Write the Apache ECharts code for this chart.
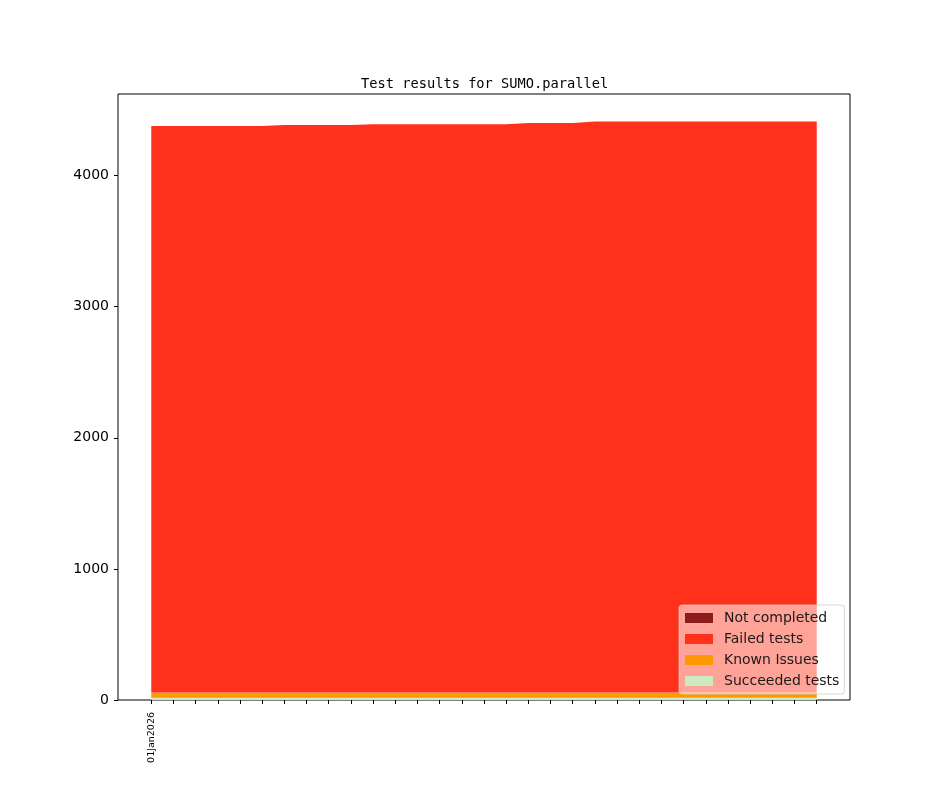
<!DOCTYPE html>
<html>
<head>
<meta charset="utf-8">
<script src="https://cdn.jsdelivr.net/npm/echarts@6/dist/echarts.min.js"></script>
<style>
  html, body { margin: 0; padding: 0; background: #fff; }
  #chart { width: 944px; height: 787px; }
</style>
</head>
<body>
<div id="chart"></div>
<script>
// one entry per day, starting 01Jan2026
const days = ['01Jan2026', '02Jan2026', '03Jan2026', '04Jan2026', '05Jan2026', '06Jan2026', '07Jan2026', '08Jan2026',
  '09Jan2026', '10Jan2026', '11Jan2026', '12Jan2026', '13Jan2026', '14Jan2026', '15Jan2026', '16Jan2026',
  '17Jan2026', '18Jan2026', '19Jan2026', '20Jan2026', '21Jan2026', '22Jan2026', '23Jan2026', '24Jan2026',
  '25Jan2026', '26Jan2026', '27Jan2026', '28Jan2026', '29Jan2026', '30Jan2026', '31Jan2026']
const succeeded = [18, 18, 18, 18, 18, 18, 18, 18, 18, 18, 18, 18, 18, 18, 18, 18,
  18, 18, 18, 18, 18, 18, 18, 18, 18, 18, 18, 18, 18, 18, 18]
const knownIssues = [40, 40, 40, 40, 40, 40, 40, 40, 40, 40, 40, 40, 40, 40, 40, 40,
  40, 40, 40, 40, 40, 40, 40, 40, 40, 40, 40, 40, 40, 40, 40]
const failed = [4320, 4320, 4320, 4320, 4320, 4320, 4328, 4328, 4328, 4328, 4333, 4333, 4333, 4333, 4333, 4333,
  4333, 4342, 4342, 4342, 4354, 4354, 4354, 4354, 4354, 4354, 4354, 4354, 4354, 4354, 4354]
const notCompleted = [0, 0, 0, 0, 0, 0, 0, 0, 0, 0, 0, 0, 0, 0, 0, 0,
  0, 0, 0, 0, 0, 0, 0, 0, 0, 0, 0, 0, 0, 0, 0]
const yTicks = [0, 1000, 2000, 3000, 4000]

const chart = echarts.init(document.getElementById('chart'))

// an empty slot on each side gives the plot its side margins
const cats = [''].concat(days, [''])
const padded = arr => [null].concat(arr, [null])
const area = (name, arr, color) => ({
  name: name,
  type: 'line',
  stack: 'results',
  data: padded(arr),
  showSymbol: false,
  symbol: 'none',
  lineStyle: { width: 0 },
  areaStyle: { color: color, opacity: 1 },
  itemStyle: { color: color },
  silent: true
})

const option = {
  animation: false,
  title: {
    text: 'Test results for SUMO.parallel',
    left: 356,
    top: 72,
    textStyle: { fontFamily: 'DejaVu Sans Mono', fontSize: 13.7, fontWeight: 'normal', color: '#000' }
  },
  grid: {
    left: 118,
    right: 94,
    top: 94,
    bottom: 87,
    show: true,
    borderColor: '#000',
    borderWidth: 1,
    backgroundColor: 'transparent'
  },
  legend: {
    orient: 'vertical',
    left: 679,
    top: 605,
    data: ['Not completed', 'Failed tests', 'Known Issues', 'Succeeded tests'],
    icon: 'rect',
    itemWidth: 28,
    itemHeight: 10,
    itemGap: 7,
    padding: [6, 5, 6, 6],
    backgroundColor: 'rgba(255,255,255,0.55)',
    borderColor: 'rgba(204,204,204,0.8)',
    borderWidth: 1,
    borderRadius: 3,
    textStyle: { fontFamily: 'DejaVu Sans', fontSize: 14, color: '#1a1a1a', lineHeight: 14, padding: [0, 0, 0, 6] }
  },
  xAxis: {
    type: 'category',
    data: cats,
    boundaryGap: true,
    splitLine: { show: false },
    axisLine: { show: false },
    axisTick: {
      show: true,
      alignWithLabel: true,
      length: 4,
      lineStyle: { color: '#000', width: 1 },
      interval: i => i >= 1 && i <= days.length
    },
    axisLabel: {
      show: true,
      rotate: 90,
      margin: 12,
      fontFamily: 'DejaVu Sans',
      fontSize: 9.5,
      color: '#000',
      interval: i => i === 1
    }
  },
  yAxis: {
    type: 'value',
    min: 0,
    max: 4622,
    interval: 1000,
    splitLine: { show: false },
    axisLine: { show: false },
    axisTick: { show: true, length: 4, lineStyle: { color: '#000', width: 1 }, customValues: yTicks },
    axisLabel: {
      margin: 9,
      fontFamily: 'DejaVu Sans',
      fontSize: 14,
      color: '#000',
      customValues: yTicks,
      formatter: v => String(v)
    }
  },
  series: [
    area('Succeeded tests', succeeded, '#ccebc0'),
    area('Known Issues', knownIssues, '#ff9900'),
    area('Failed tests', failed, '#ff311a'),
    area('Not completed', notCompleted, '#8c1b1b')
  ]
}
chart.setOption(option)
</script>
</body>
</html>
